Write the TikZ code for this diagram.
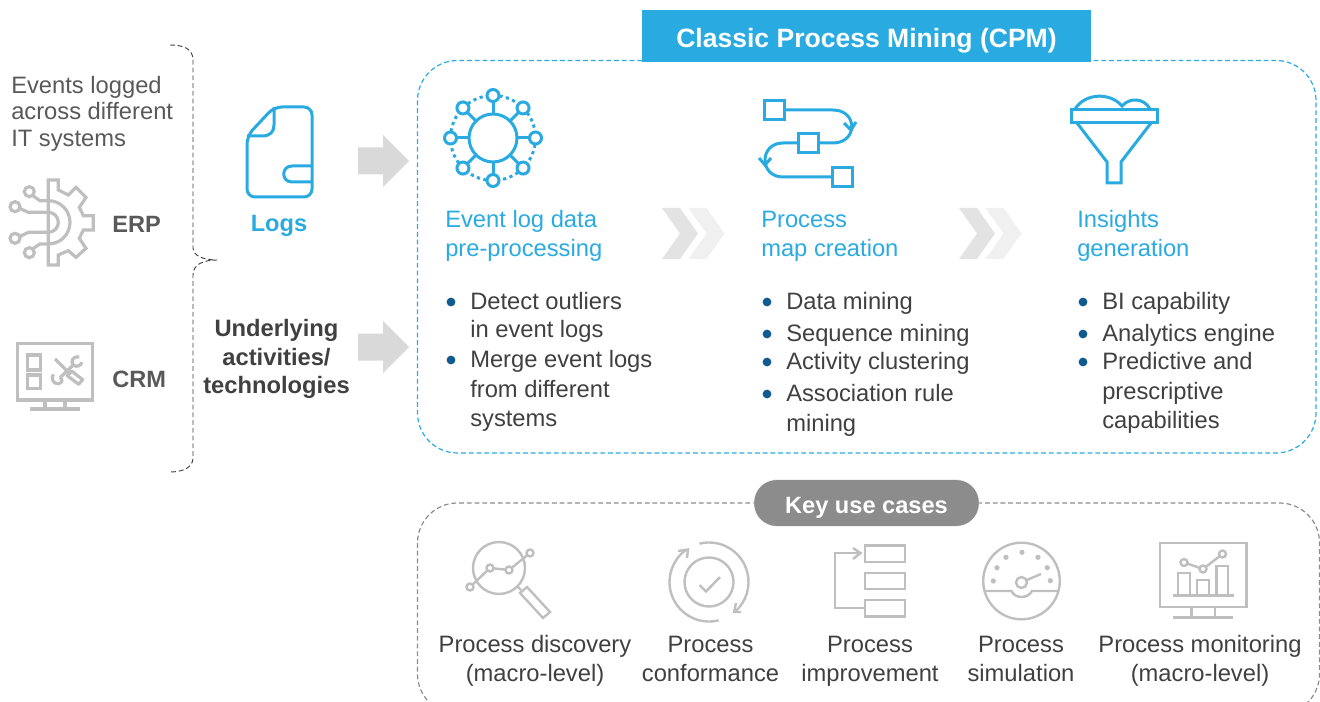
\documentclass[tikz,border=0pt]{standalone}
\usepackage{fontspec}
\setmainfont{Liberation Sans}
\definecolor{cpmblue}{RGB}{41,171,226}
\definecolor{dotblue}{RGB}{15,91,143}
\definecolor{icongray}{RGB}{191,191,191}
\definecolor{pillgray}{RGB}{140,140,140}
\definecolor{darktxt}{RGB}{64,64,64}
\definecolor{midtxt}{RGB}{89,89,89}
\definecolor{arrowgray}{RGB}{217,217,217}
\tikzset{
    basetxt/.style={inner sep=0pt,font=\fontsize{17.8}{22}\selectfont},
    grouptxt/.style={basetxt,anchor=west,align=left,text=midtxt,font=\fontsize{17.8}{19.9}\selectfont},
    systxt/.style={basetxt,anchor=west,text=midtxt,font=\fontsize{17.7}{21}\bfseries\selectfont},
    headtxt/.style={basetxt,anchor=west,align=left,text=cpmblue},
    itemtxt/.style={basetxt,anchor=west,align=left,text=darktxt},
    casetxt/.style={basetxt,align=center,text=darktxt},
    blueicon/.style={draw=cpmblue,line width=2.25pt},
    grayicon/.style={draw=icongray,line width=2.4pt},
    smallicon/.style={draw=icongray,line width=1.8pt},
}

\begin{document}
\begin{tikzpicture}[x=0.75pt,y=-0.75pt]
        \clip (0,0) rectangle (1320,702);

        \draw[cpmblue,line width=0.9pt,dash pattern=on 3.6pt off 2.2pt,rounded corners=30pt] (417.5,60.5) rectangle (1316,453);
        \draw[pillgray,line width=0.9pt,dash pattern=on 3.6pt off 2.2pt,rounded corners=30pt] (417.5,503) rectangle (1319.5,714);
        \draw[darktxt,line width=0.7pt,dash pattern=on 3.6pt off 2.2pt] (170,45) .. controls (182,45) and (193,48) .. (193,60) -- (193,248) .. controls (193,256) and (204,260) .. (217,260) .. controls (204,260) and (193,264) .. (193,275) -- (193,458) .. controls (193,468) and (182,472) .. (170,472);

        \node[fill=cpmblue,text=white,minimum width=336.75pt,minimum height=39pt,inner sep=0pt,text height=21pt,text depth=4pt,font=\fontsize{19.9}{24}\bfseries\selectfont] (cpm) at (866.5,36) {Classic Process Mining (CPM)};
        \node[draw=white,fill=pillgray,text=white,rounded corners=17pt,minimum width=169pt,minimum height=35pt,inner sep=0pt,text height=20.4pt,text depth=4pt,font=\fontsize{17.7}{21}\bfseries\selectfont] (usecases) at (866.5,503) {Key use cases};

        \node[grouptxt] (events) at (11,113.5) {Events logged\\across different\\IT systems};
        \node[systxt] (erp) at (112,224.5) {ERP};
        \node[systxt] (crm) at (112,379.5) {CRM};
        \node[basetxt,text=cpmblue,font=\fontsize{17.7}{21}\bfseries\selectfont] (logs) at (279,226) {Logs};
        \node[basetxt,align=center,text=darktxt,font=\fontsize{17.8}{21.4}\bfseries\selectfont] (underlying) at (276.5,359) {Underlying\\activities/\\technologies};

        \foreach \y in {161,347}
            \fill[arrowgray] (358,\y-13.5) -- (383,\y-13.5) -- (383,\y-26) -- (409,\y) -- (383,\y+26) -- (383,\y+13.5) -- (358,\y+13.5) -- cycle;
        \foreach \x in {662,959} {
            \fill[black!11] (\x,208) -- (\x+18,208) -- (\x+36,233.5) -- (\x+18,259) -- (\x,259) -- (\x+18,233.5) -- cycle;
            \fill[black!6] (\x+26.5,208) -- (\x+44.5,208) -- (\x+62.5,233.5) -- (\x+44.5,259) -- (\x+26.5,259) -- (\x+44.5,233.5) -- cycle;
        }

        \node[headtxt] (prep) at (445,236) {Event log data\\pre-processing};
        \node[headtxt] (pmap) at (761,236.5) {Process\\map creation};
        \node[headtxt] (insights) at (1077,236) {Insights\\generation};

        \foreach \x/\n/\y/\d/\s in {
            470/a/317.5/302/{Detect outliers\\[-0.8pt]in event logs},
            470/b/391/360/{Merge event logs\\from different\\systems},
            786/c/303.5/302/{Data mining},
            786/d/335.5/334/{Sequence mining},
            786/e/363.5/362/{Activity clustering},
            786/f/410.5/394/{Association rule\\mining},
            1102/g/303.5/302/{BI capability},
            1102/h/335.5/334/{Analytics engine},
            1102/i/393/362/{Predictive and\\prescriptive\\capabilities}} {
            \node[itemtxt] (item\n) at (\x,\y) {\s};
            \fill[dotblue] (\x-19,\d) circle (4.4);
        }

        \node[casetxt] (discovery) at (535,661) {Process discovery\\(macro-level)};
        \node[casetxt] (conformance) at (710.5,659) {Process\\conformance};
        \node[casetxt] (improvement) at (870,661.5) {Process\\improvement};
        \node[casetxt] (simulation) at (1021,659) {Process\\simulation};
        \node[casetxt] (monitoring) at (1200,661) {Process monitoring\\(macro-level)};

        \draw[blueicon,rounded corners=6pt] (274,107) -- (312,107) -- (312,197) -- (247,197) -- (247,136) -- cycle;
        \draw[blueicon] (247,136) -- (262,136) .. controls (270,136) and (274,132) .. (274,125) -- (274,107);
        \draw[blueicon] (312,166) -- (292,166) .. controls (281,166) and (281,182) .. (292,182) -- (312,182);

        \draw[blueicon,dash pattern=on 2.4pt off 2.6pt] (493,138) circle (42.5);
        \foreach \a in {0,45,...,315} {
            \draw[blueicon] (493,138) ++(\a:24) -- ++(\a:12);
            \draw[blueicon,fill=white] (493,138) ++(\a:42.5) circle (6);
        }
        \draw[blueicon] (493,138) circle (24);

        \draw[blueicon] (764,101) rectangle (784,120);
        \draw[blueicon] (798,134) rectangle (818,153);
        \draw[blueicon] (832,168) rectangle (852,187);
        \draw[blueicon] (784,110) -- (833,110) .. controls (858,110) and (858,143) .. (833,143) -- (818,143);
        \draw[blueicon] (844,123) -- (851,130) -- (856,122);
        \draw[blueicon] (798,143) -- (783,143) .. controls (759,143) and (759,177) .. (783,177) -- (832,177);
        \draw[blueicon] (759,158) -- (765,165) -- (771,158);

        \draw[blueicon] (1071,109.5) rectangle (1157,123);
        \draw[blueicon] (1077,123) -- (1107,162) -- (1107,183) -- (1121,183) -- (1121,162) -- (1151,123);
        \draw[blueicon] (1075,109) .. controls (1085,93) and (1110,92) .. (1122,106) .. controls (1130,97) and (1144,98) .. (1150,109);

        \begin{scope}[shift={(0,170)},scale=1/3]
            \draw[grayicon,line join=miter] (145,30) -- (175,30) -- (175,60) -- (205,75) -- (228,52) -- (258,82) -- (238,112) -- (250,137) -- (280,137) -- (280,180) -- (250,180) -- (238,205) -- (258,235) -- (228,262) -- (205,242) -- (175,255) -- (175,285) -- (145,285) -- cycle;
            \draw[grayicon] (145,92) arc (-90:90:65);
            \draw[grayicon] (145,127) arc (-90:90:30);
            \draw[grayicon] (145,92) -- (120,92) -- (100,78);
            \draw[grayicon] (145,127) -- (85,127) -- (58,115);
            \draw[grayicon] (145,187) -- (85,187) -- (58,200);
            \draw[grayicon] (145,222) -- (120,222) -- (100,235);
            \foreach \x/\y in {88/65,45/110,45/205,88/248}
                \draw[grayicon] (\x,\y) circle (15);
        \end{scope}

        \begin{scope}[shift={(10,335)},scale=1/3]
            \draw[grayicon] (22,25) rectangle (248,195);
            \draw[grayicon] (105,195) -- (105,222);
            \draw[grayicon] (165,195) -- (165,222);
            \draw[grayicon] (60,222) -- (210,222);
            \draw[grayicon] (52,60) rectangle (92,105);
            \draw[grayicon] (52,120) rectangle (92,160);
            \draw[grayicon] (135,72) -- (182,118);
            \draw[grayicon,line join=round] (185,108) -- (218,134) -- (206,148) -- (172,122) -- cycle;
            \draw[grayicon] (190,90) -- (150,128);
            \draw[grayicon] (208,66) .. controls (190,62) and (180,78) .. (190,90) .. controls (200,98) and (212,92) .. (216,82);
            \draw[grayicon] (130,118) .. controls (122,130) and (130,148) .. (146,146) .. controls (156,144) and (160,134) .. (150,128);
        \end{scope}

        \draw[smallicon] (499,568) circle (26);
        \draw[smallicon] (518,587) -- (521,590);
        \draw[smallicon] (520,593) -- (527,587) -- (550,612) -- (543,618) -- cycle;
        \draw[smallicon] (470,587) -- (490,568) -- (509,570) -- (530,553);
        \foreach \x/\y in {470/587,490/568,509/570,530/553}
            \draw[smallicon,fill=white] (\x,\y) circle (3.5);

        \draw[smallicon] (709,582) circle (24.5);
        \draw[smallicon] (709,582) ++(76:39.5) arc (76:234:39.5);
        \draw[smallicon] (709,582) ++(-104:39.5) arc (-104:49:39.5);
        \draw[smallicon] (678,551) -- (688,549.5) -- (687,558);
        \draw[smallicon] (741,612) -- (734,612) -- (736,603);
        \draw[smallicon] (699.5,585) -- (706,591.5) -- (720,577);

        \draw[smallicon] (865,545.5) rectangle (905,562);
        \draw[smallicon] (865,573) rectangle (905,589);
        \draw[smallicon] (865,600) rectangle (905,616.5);
        \draw[smallicon] (861,553) -- (835,553) -- (835,608) -- (865,608);
        \draw[smallicon] (853,548) -- (860.5,553) -- (853,559);

        \draw[smallicon] (1021.5,581) circle (38.3);
        \draw[smallicon] (985,591) -- (1011.5,591) .. controls (1015,599) and (1028,599) .. (1032,591) -- (1058,591);
        \draw[smallicon] (1021.5,582.5) circle (5.5);
        \draw[smallicon] (1027,580) -- (1041,574);
        \foreach \x/\y in {993.3/581,997/567.7,1006/557.3,1022/552.3,1038/557.3,1047.3/567.7,1050.3/580.7}
            \fill[icongray] (\x,\y) circle (2.6);

        \draw[smallicon] (1160,543) rectangle (1246.5,607);
        \draw[smallicon] (1191.5,607) -- (1191.5,617.5);
        \draw[smallicon] (1215,607) -- (1215,617.5);
        \draw[smallicon] (1173,617.5) -- (1232.5,617.5);
        \draw[smallicon] (1172.5,595.5) -- (1234,595.5);
        \draw[smallicon] (1178,595.5) -- (1178,573) -- (1190,573) -- (1190,595.5);
        \draw[smallicon] (1197,595.5) -- (1197,580) -- (1209,580) -- (1209,595.5);
        \draw[smallicon] (1216.5,595.5) -- (1216.5,566) -- (1228,566) -- (1228,595.5);
        \draw[smallicon] (1184,562.5) -- (1203,569) -- (1222.5,554);
        \foreach \x/\y in {1184/562.5,1203/569,1222.5/554}
            \draw[smallicon,fill=white] (\x,\y) circle (3.5);
    \end{tikzpicture}
\end{document}
